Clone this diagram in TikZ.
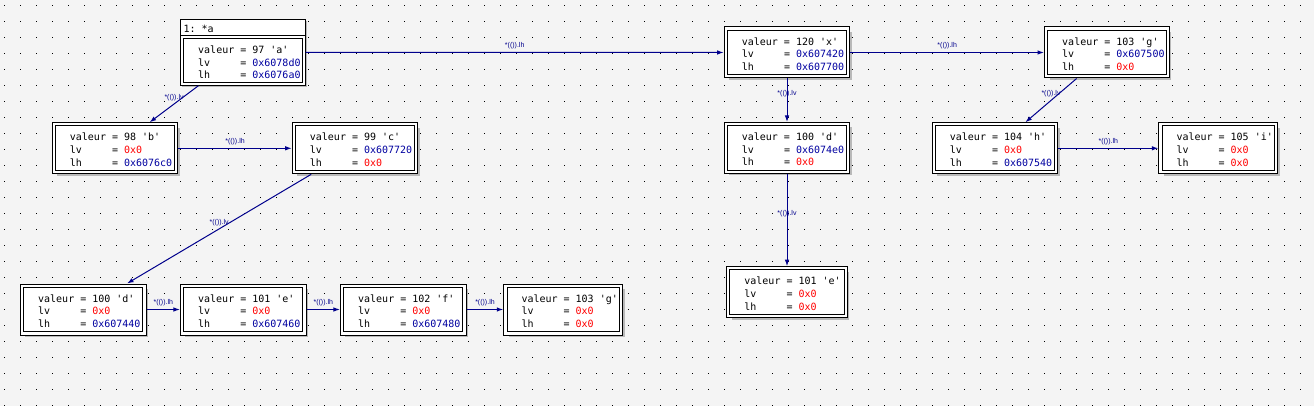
\documentclass[tikz,border=0pt]{standalone}
\usepackage{fontspec}
\setmonofont{DejaVu Sans Mono}
\newfontfamily\lblfont{Liberation Sans}
\usetikzlibrary{arrows.meta,shadows}
\definecolor{bgc}{RGB}{244,244,244}
\definecolor{valblue}{RGB}{0,0,160}
\definecolor{edgeblue}{RGB}{0,0,140}
\definecolor{valred}{RGB}{255,0,0}
\definecolor{shadowc}{RGB}{185,185,185}
\newcommand\bv[1]{\textcolor{valblue}{#1}}
\newcommand\rv[1]{\textcolor{valred}{#1}}
\newcommand\fields[3]{valeur = #1\\lv\hphantom{xxxx} = #2\\lh\hphantom{xxxx} = #3}
\tikzset{
  frame/.style={draw=black, line width=1pt, double=white, double distance=2.2pt,
    fill=white, outer sep=2.1pt, inner sep=0pt, minimum height=47.8pt,
    drop shadow={shadow xshift=3.4pt, shadow yshift=-3.4pt, fill=shadowc, opacity=1}},
  fieldtxt/.style={anchor=west, inner sep=0pt, align=left, yshift=-1.5pt,
    font=\ttfamily\fontsize{10}{12.6}\selectfont},
  link/.style={draw=edgeblue, line width=1pt, -{Latex[length=6.5pt,width=4.5pt]}},
  lbl/.style={midway, yshift=6.5pt, inner sep=0pt, text=edgeblue,
    font=\lblfont\fontsize{7}{7}\selectfont},
}
\newcommand\obj[7]{%
  \node[frame, minimum width=#4pt-4.2pt] (#1) at (#2,#3) {};
  \node[fieldtxt] (#1t) at ([xshift=18pt]#1.west) {\fields{#5}{#6}{#7}};
}
\begin{document}
\begin{tikzpicture}[x=1pt,y=-1pt]
\useasboundingbox (0,0) rectangle (1314,406);
\fill[bgc] (0,0) rectangle (1314,406);
\foreach \i in {0,...,81}{\foreach \j in {0,...,25}{\fill[black] (4+16*\i,5+16*\j) rectangle ++(1,1);}}
% node 1: *a
\node[draw=black, line width=1pt, fill=white, inner sep=0pt, outer sep=0.5pt,
  minimum width=124.7pt, minimum height=65.7pt,
  drop shadow={shadow xshift=1.8pt, shadow yshift=-1.8pt, fill=shadowc, opacity=1}] (a) at (242.85,52.35) {};
\node[anchor=west, inner sep=0pt, font=\ttfamily\fontsize{10}{12}\selectfont] (atitle) at (183.3,28.8) {1: *a};
\draw[line width=1pt] (180.5,35.5) -- (305.2,35.5);
\draw[line width=1pt] (183.5,38.7) rectangle (302.5,82.5);
\node[fieldtxt] (at) at (198,61) {\fields{97 'a'}{\bv{0x6078d0}}{\bv{0x6076a0}}};
% objects
\obj{b}{115}{148.3}{126.6}{98 'b'}{\rv{0x0}}{\bv{0x6076c0}}
\obj{c}{355}{148.3}{126.6}{99 'c'}{\bv{0x607720}}{\rv{0x0}}
\obj{d}{83.3}{309.5}{126.7}{100 'd'}{\rv{0x0}}{\bv{0x607440}}
\obj{e}{243.3}{309.5}{126.7}{101 'e'}{\rv{0x0}}{\bv{0x607460}}
\obj{f}{403.3}{309.5}{126.7}{102 'f'}{\rv{0x0}}{\bv{0x607480}}
\obj{g}{563.3}{309.5}{120}{103 'g'}{\rv{0x0}}{\rv{0x0}}
\obj{x}{787}{52.5}{126.7}{120 'x'}{\bv{0x607420}}{\bv{0x607700}}
\obj{dd}{787}{148}{126.7}{100 'd'}{\bv{0x6074e0}}{\rv{0x0}}
\obj{ee}{787}{292.2}{121.6}{101 'e'}{\rv{0x0}}{\rv{0x0}}
\obj{gg}{1107}{52.5}{126}{103 'g'}{\bv{0x607500}}{\rv{0x0}}
\obj{h}{995}{148.3}{126.6}{104 'h'}{\rv{0x0}}{\bv{0x607540}}
\obj{i}{1218.3}{148.3}{120}{105 'i'}{\rv{0x0}}{\rv{0x0}}
% links
\draw[link] (a) -- node[lbl] (l1) {*(()).lv} (b);
\draw[link] (b) -- node[lbl] (l2) {*(()).lh} (c);
\draw[link] (c) -- node[lbl] (l3) {*(()).lv} (d);
\draw[link] (d) -- node[lbl] (l4) {*(()).lh} (e);
\draw[link] (e) -- node[lbl] (l5) {*(()).lh} (f);
\draw[link] (f) -- node[lbl] (l6) {*(()).lh} (g);
\draw[link] (a) -- node[lbl] (l7) {*(()).lh} (x);
\draw[link] (x) -- node[lbl] (l8) {*(()).lv} (dd);
\draw[link] (dd) -- node[lbl] (l9) {*(()).lv} (ee);
\draw[link] (x) -- node[lbl] (l10) {*(()).lh} (gg);
\draw[link] (gg) -- node[lbl] (l11) {*(()).lv} (h);
\draw[link] (h) -- node[lbl] (l12) {*(()).lh} (i);
\end{tikzpicture}
\end{document}
